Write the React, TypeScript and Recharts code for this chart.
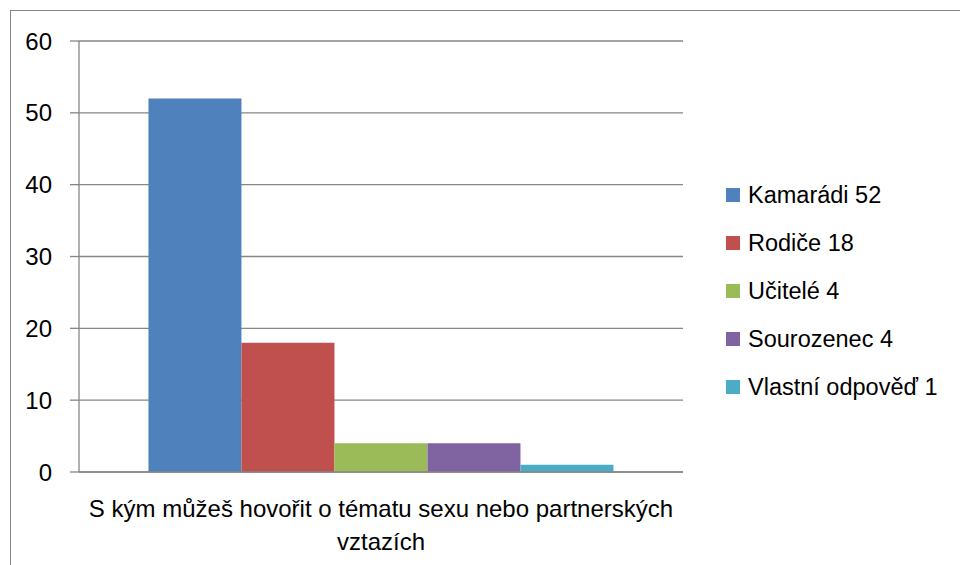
import { BarChart, Bar, XAxis, YAxis, CartesianGrid, Legend } from "recharts";

const CATEGORY_LINES = ["S kým můžeš hovořit o tématu sexu nebo partnerských", "vztazích"];
const SERIES_KEYS = ["kamaradi", "rodice", "ucitele", "sourozenec", "vlastni"];
const SERIES_NAMES = ["Kamarádi 52", "Rodiče 18", "Učitelé 4", "Sourozenec 4", "Vlastní odpověď 1"];
const SERIES_VALUES = [52, 18, 4, 4, 1];
const COLORS = ["#4F81BD", "#C0504D", "#9BBB59", "#8064A2", "#4BACC6"];
const Y_TICKS = [0, 10, 20, 30, 40, 50, 60];

const GRAY = "#868686";
const FONT = "'Liberation Sans', Arial, sans-serif";

const row: Record<string, any> = { name: CATEGORY_LINES.join(" ") };
SERIES_KEYS.forEach((k, i) => {
    row[k] = SERIES_VALUES[i];
});
const data = [row];

function CategoryTick({ x, y }: any) {
    return (
        <text x={x} y={y} textAnchor="middle" fill="#000" fontSize={24} fontFamily={FONT}>
            {CATEGORY_LINES.map((line, i) => (
                <tspan key={i} x={x} dy={i === 0 ? 35 : 33}>
                    {line}
                </tspan>
            ))}
        </text>
    );
}

function LegendList() {
    return (
        <div style={{ fontFamily: FONT, fontSize: 23.5, color: "#000" }}>
            {SERIES_NAMES.map((name, i) => (
                <div key={name} style={{ height: 48, display: "flex", alignItems: "center" }}>
                    <span
                        style={{
                            width: 14,
                            height: 14,
                            background: COLORS[i],
                            display: "inline-block",
                            marginRight: 8,
                        }}
                    />
                    <span>{name}</span>
                </div>
            ))}
        </div>
    );
}

export default function App() {
    return (
        <div
            style={{
                position: "absolute",
                left: 0,
                top: 0,
                width: 960,
                height: 565,
                background: "#fff",
                overflow: "hidden",
            }}
        >
            <div
                style={{
                    position: "absolute",
                    left: 10,
                    top: 10,
                    width: 980,
                    height: 600,
                    borderLeft: `1px solid ${GRAY}`,
                    borderTop: `1px solid ${GRAY}`,
                }}
            />
            <div style={{ position: "absolute", left: 0, top: 0 }}>
                <BarChart
                    width={960}
                    height={565}
                    data={data}
                    margin={{ top: 41, right: 277, left: 10, bottom: 13 }}
                    barCategoryGap="11.5%"
                    barGap={0}
                >
                    <CartesianGrid vertical={false} stroke={GRAY} strokeWidth={1.3} />
                    <XAxis
                        dataKey="name"
                        height={80}
                        tickSize={8}
                        tickLine={false}
                        axisLine={{ stroke: GRAY, strokeWidth: 1.3 }}
                        tick={<CategoryTick />}
                        interval={0}
                    />
                    <YAxis
                        width={69}
                        domain={[0, 60]}
                        ticks={Y_TICKS}
                        tickSize={9}
                        tickMargin={18}
                        tickLine={{ stroke: GRAY, strokeWidth: 1.3 }}
                        axisLine={{ stroke: GRAY, strokeWidth: 1.3 }}
                        tick={{ fill: "#000", fontSize: 24, fontFamily: FONT }}
                    />
                    <Legend
                        layout="vertical"
                        align="center"
                        verticalAlign="middle"
                        content={() => <LegendList />}
                        wrapperStyle={{ left: 726, top: 171, width: 234 }}
                    />
                    {SERIES_KEYS.map((k, i) => (
                        <Bar
                            key={k}
                            dataKey={k}
                            name={SERIES_NAMES[i]}
                            fill={COLORS[i]}
                            isAnimationActive={false}
                        />
                    ))}
                </BarChart>
            </div>
        </div>
    );
}
